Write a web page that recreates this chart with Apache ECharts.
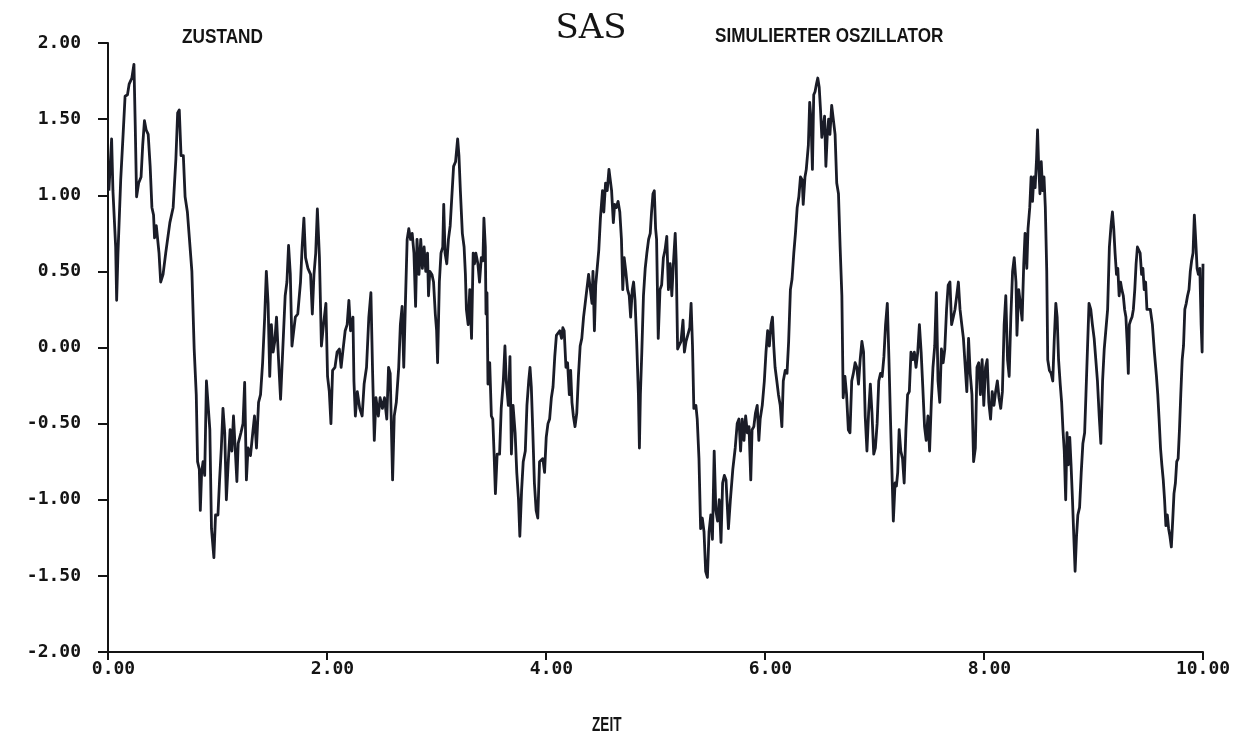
<!DOCTYPE html>
<html>
<head>
<meta charset="utf-8">
<title>SAS – Simulierter Oszillator</title>
<script src="https://cdn.jsdelivr.net/npm/echarts@6/dist/echarts.min.js"></script>
<style>
  html, body { margin: 0; padding: 0; background: #ffffff; }
  #chart { width: 1256px; height: 739px; }
</style>
</head>
<body>
<div id="chart"></div>
<script>
// Zeitachse (ZEIT) und Zustand des simulierten Oszillators
const time = [
  0.008, 0.033, 0.045, 0.070, 0.079, 0.091, 0.116, 0.138, 0.156, 0.178, 0.193, 0.218, 0.237, 0.249, 0.261, 0.280,
  0.302, 0.317, 0.333, 0.348, 0.367, 0.385, 0.401, 0.416, 0.425, 0.441, 0.466, 0.481, 0.503, 0.527, 0.565, 0.595,
  0.620, 0.636, 0.651, 0.667, 0.688, 0.704, 0.725, 0.744, 0.766, 0.787, 0.806, 0.818, 0.834, 0.843, 0.855, 0.868,
  0.883, 0.899, 0.914, 0.930, 0.945, 0.967, 0.982, 1.004, 1.019, 1.035, 1.050, 1.066, 1.081, 1.097, 1.115, 1.131,
  1.146, 1.165, 1.177, 1.189, 1.214, 1.233, 1.248, 1.264, 1.279, 1.301, 1.322, 1.338, 1.356, 1.375, 1.393, 1.412,
  1.431, 1.446, 1.462, 1.477, 1.492, 1.508, 1.523, 1.539, 1.554, 1.576, 1.591,
  1.618, 1.634, 1.649, 1.665, 1.680, 1.696, 1.711, 1.733, 1.758, 1.773, 1.789, 1.804, 1.826, 1.850, 1.866, 1.881,
  1.897, 1.912, 1.931, 1.949, 1.968, 1.990, 2.005, 2.021, 2.036, 2.051, 2.073, 2.092, 2.113, 2.129, 2.144, 2.166,
  2.184, 2.200, 2.215, 2.237, 2.246, 2.259, 2.277, 2.299, 2.321, 2.339, 2.361, 2.382, 2.401, 2.416, 2.432, 2.447,
  2.469, 2.485, 2.506, 2.525, 2.546, 2.562, 2.577, 2.599, 2.614, 2.633, 2.655, 2.670, 2.686, 2.701, 2.716, 2.732,
  2.747, 2.763, 2.778, 2.794, 2.809, 2.822, 2.840, 2.856, 2.871, 2.887, 2.902, 2.918, 2.927, 2.939, 2.958, 2.973,
  2.989, 3.001, 3.010, 3.026, 3.041, 3.057, 3.066, 3.078, 3.094, 3.109, 3.125, 3.140, 3.156, 3.174, 3.193, 3.205,
  3.218, 3.236, 3.252, 3.264, 3.273, 3.289, 3.304, 3.320, 3.335,
  3.347, 3.359, 3.378, 3.393, 3.409, 3.424, 3.433, 3.446, 3.452, 3.461, 3.470, 3.486, 3.501, 3.514, 3.526, 3.538,
  3.554, 3.576, 3.591, 3.610, 3.625, 3.637, 3.656, 3.671, 3.684, 3.699, 3.718, 3.733, 3.749, 3.761, 3.777, 3.792,
  3.811, 3.826, 3.842, 3.854, 3.866, 3.879, 3.894, 3.910, 3.925, 3.941, 3.956, 3.971, 3.987, 4.002, 4.018, 4.033,
  4.049, 4.064, 4.080, 4.095, 4.111, 4.126, 4.142, 4.154, 4.166, 4.182, 4.197, 4.213, 4.225, 4.237, 4.250, 4.265,
  4.281, 4.296, 4.312, 4.327, 4.343, 4.358, 4.374, 4.389, 4.404, 4.420, 4.429, 4.442, 4.454, 4.466, 4.482, 4.497,
  4.516, 4.528, 4.544, 4.559, 4.575, 4.584, 4.599, 4.615, 4.627, 4.643, 4.658, 4.674, 4.689, 4.701, 4.714, 4.729,
  4.745, 4.760, 4.773, 4.788, 4.800, 4.813, 4.828, 4.844, 4.853, 4.862, 4.875, 4.890, 4.906, 4.921, 4.937, 4.952,
  4.964, 4.977, 4.989, 5.001,
  5.010, 5.025, 5.041, 5.056, 5.072, 5.087, 5.103, 5.118, 5.134, 5.149, 5.165, 5.180, 5.189, 5.202, 5.214, 5.233,
  5.251, 5.264, 5.279, 5.294, 5.313, 5.325, 5.338, 5.350, 5.369, 5.381, 5.397, 5.412, 5.427, 5.443, 5.458, 5.474,
  5.489, 5.505, 5.520, 5.536, 5.551, 5.567, 5.582, 5.598, 5.613, 5.629, 5.644, 5.666, 5.684, 5.706, 5.728, 5.746,
  5.762, 5.777, 5.792, 5.808, 5.823, 5.839, 5.854, 5.870, 5.882, 5.898, 5.913, 5.929, 5.944, 5.956, 5.975, 5.994,
  6.009, 6.024, 6.040, 6.055, 6.068, 6.080, 6.092, 6.108, 6.123, 6.139, 6.154, 6.167, 6.185, 6.201, 6.216, 6.232,
  6.247, 6.263, 6.278, 6.294, 6.309, 6.324, 6.340, 6.349, 6.365, 6.377, 6.396, 6.408, 6.420, 6.433, 6.445, 6.457,
  6.470, 6.482, 6.495, 6.507, 6.519, 6.532, 6.544, 6.556, 6.569, 6.581, 6.593, 6.609, 6.624, 6.640, 6.655, 6.671,
  6.686, 6.702,
  6.714, 6.730, 6.745, 6.761, 6.776, 6.792, 6.807, 6.823, 6.838, 6.854, 6.869, 6.885, 6.900, 6.915, 6.931, 6.946,
  6.962, 6.977, 6.993, 7.008, 7.024, 7.039, 7.055, 7.070, 7.086, 7.101, 7.117, 7.132, 7.147, 7.163, 7.172, 7.188,
  7.200, 7.212, 7.225, 7.240, 7.256, 7.271, 7.287, 7.302, 7.318, 7.333, 7.348, 7.364, 7.379, 7.395, 7.410, 7.426,
  7.441, 7.457, 7.472, 7.488, 7.503, 7.519, 7.534, 7.550, 7.565, 7.580, 7.596, 7.611, 7.627, 7.642, 7.658, 7.673,
  7.689, 7.704, 7.720, 7.735, 7.751, 7.766, 7.781, 7.797, 7.812, 7.828, 7.843, 7.859, 7.874, 7.890, 7.905, 7.921,
  7.936, 7.952, 7.967, 7.983, 7.998, 8.014, 8.029, 8.044, 8.060, 8.075, 8.091, 8.106, 8.122, 8.137, 8.153, 8.168,
  8.184, 8.199, 8.215, 8.230, 8.245, 8.261, 8.276, 8.292, 8.301, 8.317, 8.332, 8.348, 8.363, 8.375, 8.391,
  8.402, 8.418, 8.430, 8.443, 8.455, 8.467, 8.480, 8.489, 8.498, 8.511, 8.523, 8.535, 8.548, 8.560, 8.573, 8.582,
  8.597, 8.613, 8.628, 8.641, 8.656, 8.668, 8.681, 8.696, 8.709, 8.721, 8.733, 8.746, 8.758, 8.770, 8.783, 8.795,
  8.808, 8.820, 8.832, 8.845, 8.857, 8.873, 8.888, 8.903, 8.919, 8.931, 8.944, 8.959, 8.975, 8.990, 9.006, 9.021,
  9.036, 9.052, 9.067, 9.083, 9.098, 9.114, 9.129, 9.145, 9.160, 9.173, 9.185, 9.197, 9.210, 9.222, 9.234, 9.247,
  9.259, 9.272, 9.284, 9.296, 9.309, 9.318, 9.327, 9.340, 9.352, 9.364, 9.377, 9.389, 9.401, 9.414, 9.426, 9.439,
  9.451, 9.463, 9.476, 9.488, 9.500, 9.519, 9.538, 9.556, 9.575, 9.587, 9.599, 9.612, 9.624, 9.637, 9.649, 9.661,
  9.674, 9.686, 9.698, 9.711, 9.723, 9.735, 9.748, 9.760, 9.773, 9.785, 9.797, 9.810, 9.822, 9.834, 9.847, 9.859,
  9.872, 9.884, 9.896, 9.909, 9.921, 9.933, 9.946, 9.958, 9.971, 9.983, 9.992, 10.000
];

const state = [
  1.03, 1.37, 1.03, 0.66, 0.31, 0.62, 1.10, 1.40, 1.65, 1.66, 1.73, 1.77, 1.86, 1.45, 0.99, 1.08,
  1.12, 1.33, 1.49, 1.43, 1.40, 1.19, 0.92, 0.87, 0.72, 0.80, 0.62, 0.43, 0.48, 0.62, 0.82, 0.92,
  1.24, 1.54, 1.56, 1.26, 1.26, 0.99, 0.89, 0.71, 0.50, -0.01, -0.31, -0.75, -0.80, -1.07, -0.82, -0.75,
  -0.84, -0.22, -0.22, -0.54, -1.19, -1.38, -1.10, -1.10, -0.87, -0.66, -0.40, -0.56, -1.00, -0.77, -0.54, -0.68,
  -0.45, -0.71, -0.88, -0.63, -0.56, -0.50, -0.23, -0.87, -0.66, -0.71, -0.56, -0.45, -0.66, -0.36, -0.31, -0.10,
  0.20, 0.50, 0.29, -0.19, 0.15, -0.03, 0.04, 0.20, -0.03, -0.34, -0.34,
  0.34, 0.43, 0.67, 0.48, 0.01, 0.11, 0.20, 0.22, 0.43, 0.66, 0.85, 0.59, 0.52, 0.48, 0.22, 0.48,
  0.62, 0.91, 0.59, 0.01, 0.15, 0.29, -0.19, -0.29, -0.50, -0.15, -0.13, -0.03, -0.01, -0.13, -0.03, 0.11,
  0.15, 0.31, 0.11, 0.20, -0.22, -0.45, -0.29, -0.40, -0.45, -0.24, -0.13, 0.20, 0.36, -0.15, -0.61, -0.33,
  -0.45, -0.33, -0.40, -0.33, -0.47, -0.13, -0.17, -0.87, -0.45, -0.36, -0.13, 0.15, 0.27, -0.13, 0.29, 0.71,
  0.78, 0.71, 0.75, 0.62, 0.27, 0.71, 0.48, 0.71, 0.52, 0.66, 0.50, 0.62, 0.34, 0.50, 0.48, 0.43,
  0.22, 0.11, -0.10, 0.43, 0.62, 0.66, 0.94, 0.62, 0.55, 0.71, 0.80, 0.99, 1.19, 1.22, 1.37, 1.26,
  1.03, 0.75, 0.66, 0.48, 0.25, 0.15, 0.38, 0.06, 0.62,
  0.55, 0.62, 0.55, 0.43, 0.59, 0.57, 0.85, 0.66, 0.22, 0.36, -0.24, -0.10, -0.45, -0.47, -0.70, -0.96,
  -0.70, -0.70, -0.40, -0.22, 0.01, -0.22, -0.38, -0.06, -0.70, -0.38, -0.56, -0.82, -1.00, -1.24, -0.94, -0.75,
  -0.68, -0.38, -0.22, -0.13, -0.26, -0.54, -0.89, -1.07, -1.12, -0.75, -0.75, -0.73, -0.82, -0.59, -0.50, -0.47,
  -0.33, -0.26, -0.06, 0.08, 0.08, 0.11, 0.06, 0.13, 0.11, -0.13, -0.10, -0.31, -0.15, -0.36, -0.45, -0.52,
  -0.43, -0.19, 0.01, 0.06, 0.20, 0.29, 0.29, 0.48, 0.48, 0.29, 0.50, 0.11, 0.41, 0.41, 0.64, 0.85,
  1.03, 0.89, 1.08, 1.03, 1.17, 1.17, 1.03, 0.82, 0.94, 0.92, 0.96, 0.89, 0.71, 0.38, 0.59, 0.50,
  0.38, 0.34, 0.20, 0.38, 0.43, 0.31, 0.04, -0.31, -0.66, -0.31, -0.03, 0.34, 0.52, 0.62, 0.71, 0.75,
  0.89, 1.01, 1.03, 0.78,
  0.71, 0.06, 0.38, 0.41, 0.59, 0.64, 0.73, 0.38, 0.55, 0.34, 0.57, 0.75, 0.57, -0.01, 0.01, 0.04,
  0.18, -0.03, 0.04, 0.08, 0.13, 0.29, 0.01, -0.40, -0.38, -0.47, -0.73, -1.19, -1.12, -1.21, -1.47, -1.51,
  -1.21, -1.10, -1.26, -0.68, -1.07, -1.14, -1.00, -1.28, -0.89, -0.84, -0.87, -1.19, -1.00, -0.80, -0.66, -0.50,
  -0.47, -0.68, -0.47, -0.61, -0.45, -0.56, -0.52, -0.87, -0.54, -0.52, -0.43, -0.38, -0.61, -0.47, -0.38, -0.22,
  -0.03, 0.11, 0.01, 0.15, 0.20, 0.01, -0.13, -0.22, -0.31, -0.38, -0.52, -0.22, -0.15, -0.17, 0.04, 0.38,
  0.45, 0.62, 0.75, 0.92, 0.99, 1.12, 1.10, 0.94, 1.12, 1.17, 1.33, 1.61, 1.50, 1.17, 1.66, 1.68,
  1.73, 1.77, 1.71, 1.56, 1.38, 1.45, 1.52, 1.19, 1.40, 1.50, 1.40, 1.59, 1.59, 1.40, 1.08, 1.01,
  0.66, 0.34,
  -0.33, -0.19, -0.31, -0.54, -0.56, -0.22, -0.17, -0.10, -0.13, -0.24, -0.08, 0.04, -0.03, -0.45, -0.68, -0.43,
  -0.24, -0.43, -0.70, -0.66, -0.50, -0.22, -0.17, -0.19, -0.06, 0.15, 0.29, -0.08, -0.50, -0.91, -1.14, -0.89,
  -0.91, -0.82, -0.54, -0.68, -0.73, -0.89, -0.54, -0.31, -0.29, -0.03, -0.08, -0.03, -0.13, -0.03, 0.15, -0.03,
  -0.26, -0.52, -0.61, -0.45, -0.68, -0.36, -0.13, 0.01, 0.36, -0.22, -0.36, -0.01, -0.10, -0.01, 0.25, 0.41,
  0.43, 0.15, 0.20, 0.25, 0.34, 0.43, 0.25, 0.15, 0.06, 0.06, -0.29, 0.06, -0.17, -0.31, -0.75, -0.66,
  -0.13, -0.10, -0.31, -0.08, -0.38, -0.13, -0.08, -0.36, -0.47, -0.29, -0.38, -0.29, -0.22, -0.33, -0.40, -0.29,
  0.15, 0.34, -0.08, -0.19, 0.20, 0.50, 0.59, 0.43, 0.08, 0.38, 0.29, 0.18, 0.55, 0.75, 0.52,
  0.78, 0.92, 1.12, 0.96, 1.12, 1.05, 1.24, 1.43, 1.22, 1.01, 1.22, 1.03, 1.12, 0.92, 0.50, -0.08,
  -0.15, -0.17, -0.22, 0.04, 0.29, 0.20, -0.08, -0.24, -0.36, -0.54, -0.68, -1.00, -0.56, -0.77, -0.59, -0.77,
  -1.00, -1.24, -1.47, -1.24, -1.10, -1.05, -0.82, -0.63, -0.56, -0.31, -0.03, 0.29, 0.25, 0.15, 0.06, -0.08,
  -0.22, -0.45, -0.63, -0.22, -0.01, -0.01, 0.25, 0.66, 0.80, 0.89, 0.78, 0.62, 0.48, 0.52, 0.34, 0.43,
  0.38, 0.34, 0.25, 0.20, 0.01, -0.17, 0.15, 0.18, 0.20, 0.25, 0.38, 0.55, 0.66, 0.66, 0.62, 0.48,
  0.52, 0.38, 0.43, 0.25, 0.25, 0.25, 0.15, -0.03, -0.19, -0.31, -0.47, -0.66, -0.77, -0.87, -1.00, -1.17,
  -1.10, -1.19, -1.24, -1.31, -1.14, -0.96, -0.89, -0.75, -0.73, -0.54, -0.31, -0.08, 0.01, 0.25, 0.29, 0.34,
  0.38, 0.50, 0.57, 0.62, 0.87, 0.71, 0.52, 0.48, 0.52, 0.15, -0.03, 0.55
];

// Achsenteilung
const xTicks = [0, 2, 4, 6, 8, 10];
const yTicks = [-2, -1.5, -1, -0.5, 0, 0.5, 1, 1.5, 2];

const ink = '#141414';
const lineInk = '#1a1c27';
const tickFont = '"DejaVu Sans Mono", monospace';

const points = time.map((t, i) => [t, state[i]]);

const chart = echarts.init(document.getElementById('chart'), null, { renderer: 'canvas' });

chart.setOption({
  animation: false,
  backgroundColor: '#ffffff',
  grid: { left: 108, right: 53, top: 43, bottom: 87, containLabel: false },
  xAxis: {
    type: 'value',
    min: xTicks[0],
    max: xTicks[xTicks.length - 1],
    interval: xTicks[1] - xTicks[0],
    axisLine: { show: true, onZero: false, lineStyle: { color: ink, width: 2 } },
    axisTick: { show: true, inside: false, length: 8, lineStyle: { color: ink, width: 2 } },
    splitLine: { show: false },
    axisLabel: {
      margin: 8,
      formatter: v => (v >= 10 ? '{w|' : '{n|') + v.toFixed(2) + '}',
      rich: {
        n: { fontFamily: tickFont, fontWeight: 'bold', fontSize: 18, color: ink, padding: [0, 0, 0, 11] },
        w: { fontFamily: tickFont, fontWeight: 'bold', fontSize: 18, color: ink }
      }
    }
  },
  yAxis: {
    type: 'value',
    min: yTicks[0],
    max: yTicks[yTicks.length - 1],
    interval: yTicks[1] - yTicks[0],
    axisLine: { show: true, onZero: false, lineStyle: { color: ink, width: 2 } },
    axisTick: { show: true, inside: false, length: 10, lineStyle: { color: ink, width: 2 } },
    splitLine: { show: false },
    axisLabel: {
      margin: 27,
      fontFamily: tickFont,
      fontWeight: 'bold',
      fontSize: 18,
      color: ink,
      formatter: v => v.toFixed(2)
    }
  },
  series: [{
    type: 'line',
    data: points,
    showSymbol: false,
    symbol: 'none',
    smooth: false,
    clip: true,
    lineStyle: { color: lineInk, width: 2.8, join: 'round' }
  }],
  graphic: [
    {
      type: 'text', x: 591, y: 12,
      style: {
        text: 'SAS', font: '34px "DejaVu Serif", serif', fill: ink,
        textAlign: 'center', align: 'center', textVerticalAlign: 'top', verticalAlign: 'top'
      }
    },
    {
      type: 'text', x: 182, y: 27, scaleX: 0.86,
      style: {
        text: 'ZUSTAND', font: 'bold 20px "Liberation Sans", Arial, sans-serif', fill: ink,
        textAlign: 'left', align: 'left', textVerticalAlign: 'top', verticalAlign: 'top'
      }
    },
    {
      type: 'text', x: 715, y: 26, scaleX: 0.855,
      style: {
        text: 'SIMULIERTER OSZILLATOR', font: 'bold 20px "Liberation Sans", Arial, sans-serif', fill: ink,
        textAlign: 'left', align: 'left', textVerticalAlign: 'top', verticalAlign: 'top'
      }
    },
    {
      type: 'text', x: 592, y: 715, scaleX: 0.68,
      style: {
        text: 'ZEIT', font: 'bold 20px "Liberation Sans", Arial, sans-serif', fill: ink,
        textAlign: 'left', align: 'left', textVerticalAlign: 'top', verticalAlign: 'top'
      }
    }
  ]
});
</script>
</body>
</html>
